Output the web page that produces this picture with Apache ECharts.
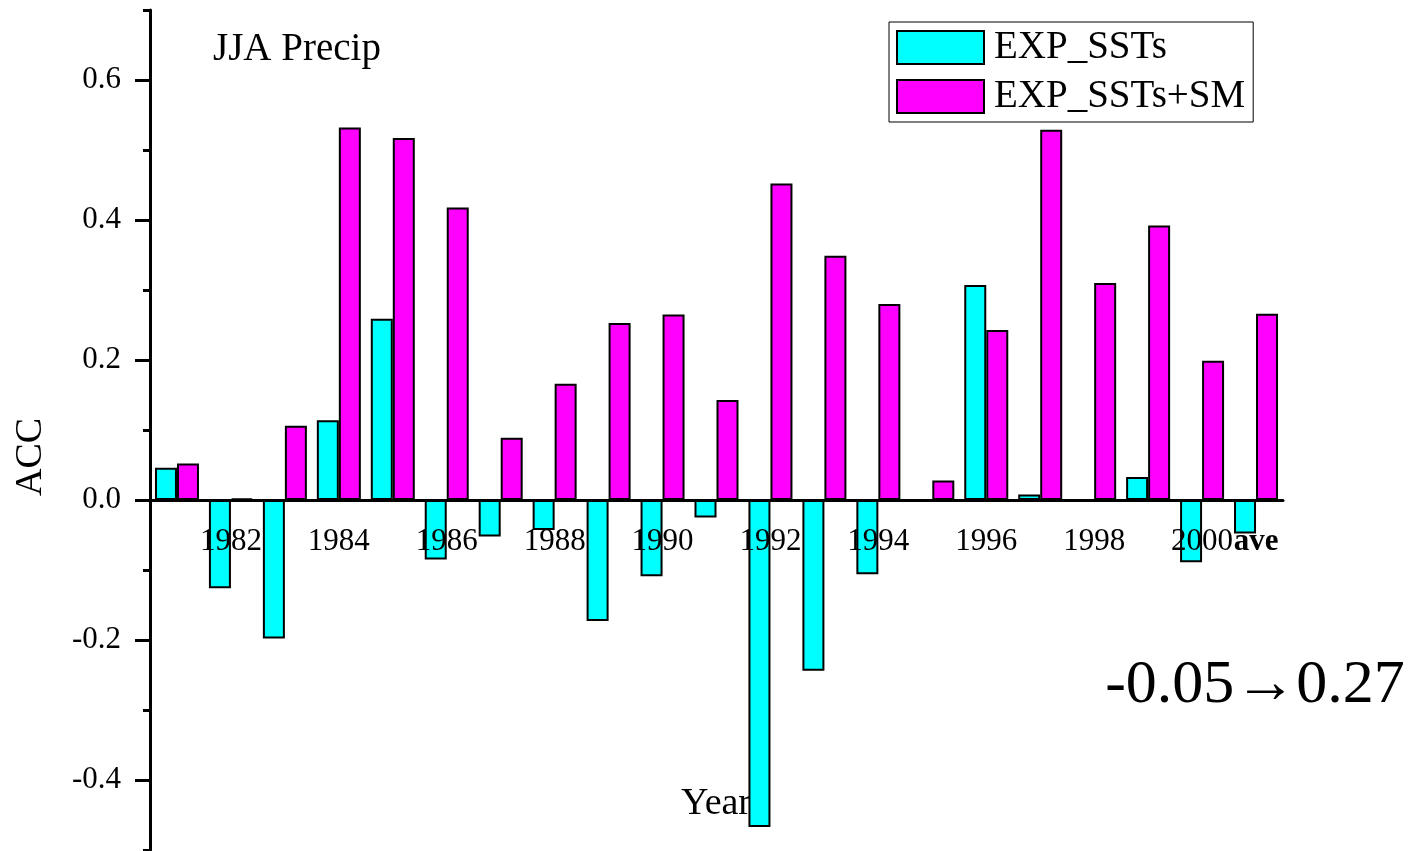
<!DOCTYPE html>
<html>
<head>
<meta charset="utf-8">
<script src="https://cdn.jsdelivr.net/npm/echarts@6/dist/echarts.min.js"></script>
<style>
html,body{margin:0;padding:0;background:#fff;}
#chart{width:1414px;height:851px;}
</style>
</head>
<body>
<div id="chart"></div>
<script>
var categories = ['1981','1982','1983','1984','1985','1986','1987','1988','1989','1990','1991','1992','1993','1994','1995','1996','1997','1998','1999','2000','ave'];
var expSSTs = [0.046,-0.126,-0.198,0.114,0.259,-0.085,-0.052,-0.043,-0.173,-0.109,-0.025,-0.467,-0.244,-0.106,null,0.307,0.008,null,0.033,-0.089,-0.048];
var expSSTsSM = [0.052,0.002,0.106,0.532,0.517,0.418,0.089,0.166,0.253,0.265,0.143,0.452,0.349,0.280,0.028,0.243,0.529,0.310,0.392,0.199,0.266];
var seriesNames = ['EXP_SSTs','EXP_SSTs+SM'];
var yTickLabels = ['-0.4','-0.2','0.0','0.2','0.4','0.6'];
var annotation = '-0.05\u21920.27';

var FONT = '"Liberation Serif", "DejaVu Serif", serif';
var chart = echarts.init(document.getElementById('chart'));

function isLabelled(idx) { return idx % 2 === 1 || idx === categories.length - 1; }

var gridBase = { left: 150, width: 1133, containLabel: false, outerBoundsMode: 'none' };

var option = {
  animation: false,
  backgroundColor: '#fff',
  grid: [
    Object.assign({ top: 10, height: 840 }, gridBase),   // bars + minor y ticks
    Object.assign({ top: 80, height: 700 }, gridBase),   // major y ticks + labels
    Object.assign({ top: 10, height: 490 }, gridBase)    // x axis along zero line
  ],
  legend: {
    orient: 'vertical',
    left: 889,
    top: 22,
    padding: [6, 8, 6, 7],
    borderColor: '#000',
    borderWidth: 1,
    itemWidth: 87,
    itemHeight: 33,
    itemGap: 10,
    icon: 'rect',
    itemStyle: { borderColor: '#000', borderWidth: 2 },
    textStyle: { fontFamily: FONT, fontSize: 39, color: '#000', padding: [0, 0, 0, 5] },
    data: seriesNames
  },
  xAxis: [
    { type: 'category', gridIndex: 0, data: categories, show: false },
    { type: 'category', gridIndex: 1, data: categories, show: false },
    {
      type: 'category', gridIndex: 2, data: categories, position: 'bottom', z: 5,
      axisLine: { onZero: false, lineStyle: { color: '#000', width: 3 } },
      axisTick: { alignWithLabel: true, interval: 0, length: 9, lineStyle: { color: '#000', width: 3 } },
      axisLabel: {
        interval: function (idx) { return isLabelled(idx); },
        margin: 26, fontFamily: FONT, fontSize: 31, color: '#000',
        formatter: function (v) { return v === 'ave' ? '{b|ave}' : v; },
        rich: { b: { fontFamily: FONT, fontSize: 31, fontWeight: 'bold', color: '#000' } }
      },
      splitLine: { show: false }
    },
    {
      type: 'category', gridIndex: 2, data: categories, position: 'bottom', z: 5,
      axisLine: { show: false, onZero: false },
      axisTick: { alignWithLabel: true, interval: function (idx) { return idx % 2 === 1; }, length: 17, lineStyle: { color: '#000', width: 3 } },
      axisLabel: { show: false },
      splitLine: { show: false }
    }
  ],
  yAxis: [
    {
      type: 'value', gridIndex: 0, min: -0.5, max: 0.7, interval: 0.1, z: 5,
      axisLine: { show: true, onZero: false, lineStyle: { color: '#000', width: 3 } },
      axisTick: { show: true, length: 7, lineStyle: { color: '#000', width: 3 } },
      axisLabel: { show: false },
      splitLine: { show: false }
    },
    {
      type: 'value', gridIndex: 1, min: -0.4, max: 0.6, interval: 0.2, z: 5,
      axisLine: { show: false, onZero: false },
      axisTick: { show: true, length: 15, lineStyle: { color: '#000', width: 3 } },
      axisLabel: {
        margin: 29, fontFamily: FONT, fontSize: 31, color: '#000',
        formatter: function (v) {
          var i = Math.round((v + 0.4) / 0.2);
          return yTickLabels[i] !== undefined ? yTickLabels[i] : '';
        }
      },
      splitLine: { show: false }
    },
    { type: 'value', gridIndex: 2, min: 0, max: 0.7, show: false }
  ],
  series: [
    {
      name: seriesNames[0], type: 'bar', xAxisIndex: 0, yAxisIndex: 0,
      data: expSSTs, barWidth: 22, barGap: '0%',
      itemStyle: { color: '#00FFFF', borderColor: '#000', borderWidth: 2 }
    },
    {
      name: seriesNames[1], type: 'bar', xAxisIndex: 0, yAxisIndex: 0,
      data: expSSTsSM, barWidth: 22, barGap: '0%',
      itemStyle: { color: '#FF00FF', borderColor: '#000', borderWidth: 2 }
    }
  ],
  graphic: [
    { type: 'text', z: 0, x: 213, y: 50, style: { text: 'JJA Precip', font: '39px ' + FONT, fill: '#000', align: 'left', verticalAlign: 'middle' } },
    { type: 'text', z: 0, x: 31, y: 457, rotation: Math.PI / 2, style: { text: 'ACC', font: '38px ' + FONT, fill: '#000', align: 'center', verticalAlign: 'middle' } },
    { type: 'text', z: 0, x: 716, y: 804, style: { text: 'Year', font: '38px ' + FONT, fill: '#000', align: 'center', verticalAlign: 'middle' } },
    { type: 'text', z: 0, x: 1255, y: 686, style: { text: annotation, font: '62px ' + FONT, fill: '#000', align: 'center', verticalAlign: 'middle' } }
  ]
};
chart.setOption(option);
</script>
</body>
</html>
